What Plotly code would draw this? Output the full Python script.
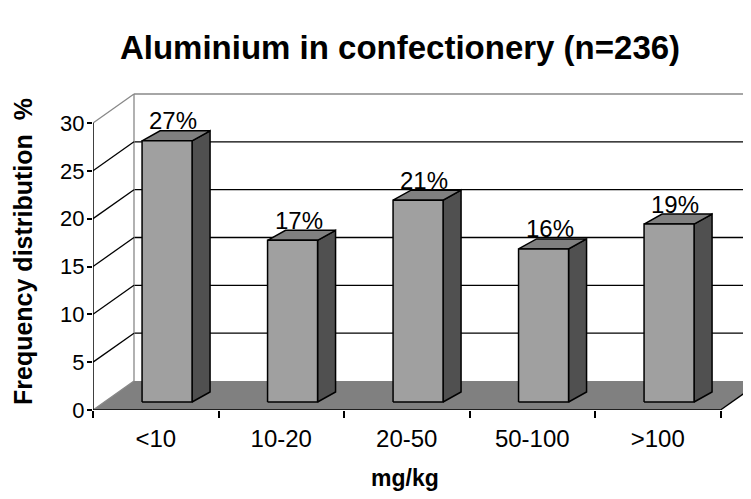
import plotly.graph_objects as go

# ---- data ----
categories = ["<10", "10-20", "20-50", "50-100", ">100"]
values = [27.3, 16.9, 21.1, 16.0, 18.6]
y_ticks = [0, 5, 10, 15, 20, 25, 30]
title_text = "Aluminium in confectionery (n=236)"
x_title = "mg/kg"
y_title = "Frequency distribution&nbsp; %"

# ---- geometry / style constants (pixel based) ----
W, H = 751, 499
OFF = 8                     # page body margin of the browser
ML, MR, MT = 93 - OFF, 0, 80 - OFF
MB = H - (410 - OFF)
PX_X = 125.5      # pixels per category unit
PX_Y = 9.567      # pixels per value unit
plot_w = W - ML - MR
plot_h = H - MT - MB
x_range = [0, plot_w / PX_X]
y_range = [0, plot_h / PX_Y]
plot_bottom = H - MB

wall_dx = 41 / PX_X
wall_dy = 29 / PX_Y
bar_dx = 18 / PX_X
bar_dy = 10 / PX_Y
set_back = 8 / 29          # fraction of floor depth where bar fronts sit
sx = set_back * wall_dx
sy = set_back * wall_dy
bar_w = 50 / PX_X
ymax = y_ticks[-1]
n = len(categories)

FRONT = "#a0a0a0"
SIDE = "#505050"
TOP = "#808080"
FLOOR = "#808080"
GRAY = "#888888"
FONT = "Arial, Liberation Sans, sans-serif"

shapes = []


def line(x0, y0, x1, y1, color="black", width=1.3):
    shapes.append(dict(type="line", xref="x", yref="y", x0=x0, y0=y0, x1=x1, y1=y1,
                       line=dict(color=color, width=width), layer="below"))


# back wall horizontal gridlines
for v in y_ticks[1:]:
    line(wall_dx, v + wall_dy, n + wall_dx, v + wall_dy,
         color=GRAY if v == ymax else "black")
# back wall left vertical edge
line(wall_dx, wall_dy, wall_dx, ymax + wall_dy, color=GRAY)
# left wall diagonals
for v in y_ticks[1:]:
    line(0, v, wall_dx, v + wall_dy, color=GRAY if v == ymax else "black")

# floor
floor_path = (f"M 0 0 L {n} 0 L {n + wall_dx} {wall_dy} "
              f"L {wall_dx} {wall_dy} Z")
shapes.append(dict(type="path", xref="x", yref="y", path=floor_path,
                   fillcolor=FLOOR, line=dict(width=0), layer="below"))
line(0, 0, wall_dx, wall_dy, color=GRAY)
line(n, 0, n + wall_dx, wall_dy, color="black")
line(0, 0, n, 0, color="black", width=1.5)
# front value axis line
line(0, 0, 0, ymax, color="black", width=1.5)

# ---- bars as filled traces ----
fx, fy, sxs, sys_, tx, ty = [], [], [], [], [], []
for i, v in enumerate(values):
    x0 = i + 0.5 - bar_w / 2 + sx
    x1 = x0 + bar_w
    y0 = sy
    y1 = v + sy
    fx += [x0, x1, x1, x0, x0, None]
    fy += [y0, y0, y1, y1, y0, None]
    sxs += [x1, x1 + bar_dx, x1 + bar_dx, x1, x1, None]
    sys_ += [y0, y0 + bar_dy, y1 + bar_dy, y1, y0, None]
    tx += [x0, x1, x1 + bar_dx, x0 + bar_dx, x0, None]
    ty += [y1, y1, y1 + bar_dy, y1 + bar_dy, y1, None]

fig = go.Figure()
for xs, ys, col in [(sxs, sys_, SIDE), (tx, ty, TOP), (fx, fy, FRONT)]:
    fig.add_trace(go.Scatter(x=xs, y=ys, mode="lines", fill="toself",
                             fillcolor=col, line=dict(color="black", width=1.5),
                             hoverinfo="skip", showlegend=False))

annotations = []
for i, v in enumerate(values):
    cx = i + 0.5 + sx + bar_dx / 3
    annotations.append(dict(x=cx, y=v + sy + bar_dy, xref="x", yref="y",
                            text=f"{round(v)}%", showarrow=False,
                            yanchor="middle", yshift=10,
                            font=dict(family=FONT, size=24, color="black")))

annotations.append(dict(text=f"<b>{x_title}</b>", xref="paper", yref="paper",
                        x=(397 - ML) / plot_w, y=-(470 - plot_bottom) / plot_h,
                        showarrow=False, xanchor="center", yanchor="middle",
                        font=dict(family=FONT, size=23, color="black")))
annotations.append(dict(text=f"<b>{y_title}</b>", xref="paper", yref="paper",
                        x=-(ML - 15) / plot_w, y=(plot_bottom - 244) / plot_h,
                        showarrow=False, textangle=-90,
                        xanchor="center", yanchor="middle",
                        font=dict(family=FONT, size=25, color="black")))

fig.update_layout(
    width=W, height=H,
    margin=dict(l=ML, r=MR, t=MT, b=MB),
    paper_bgcolor="white", plot_bgcolor="white",
    title=dict(text=f"<b>{title_text}</b>", x=392 / W, xanchor="center",
               y=1 - 39 / H, yanchor="middle",
               font=dict(family=FONT, size=33, color="black")),
    shapes=shapes,
    annotations=annotations,
    xaxis=dict(range=x_range, showgrid=False, zeroline=False, showline=False,
               tickmode="array", tickvals=[i + 0.5 for i in range(n)],
               ticktext=categories, ticks="", ticklabelstandoff=12,
               tickfont=dict(family=FONT, size=24, color="black"),
               minor=dict(tickmode="array", tickvals=list(range(n + 1)),
                          ticks="outside", ticklen=7, tickwidth=1.5,
                          tickcolor="black", showgrid=False),
               fixedrange=True),
    yaxis=dict(range=y_range, showgrid=False, zeroline=False, showline=False,
               tickmode="array", tickvals=y_ticks, ticks="outside", ticklen=5,
               tickwidth=1.5, tickcolor="black", ticklabelstandoff=-2,
               tickfont=dict(family=FONT, size=22, color="black"),
               fixedrange=True),
)

fig.write_html("out.html")
